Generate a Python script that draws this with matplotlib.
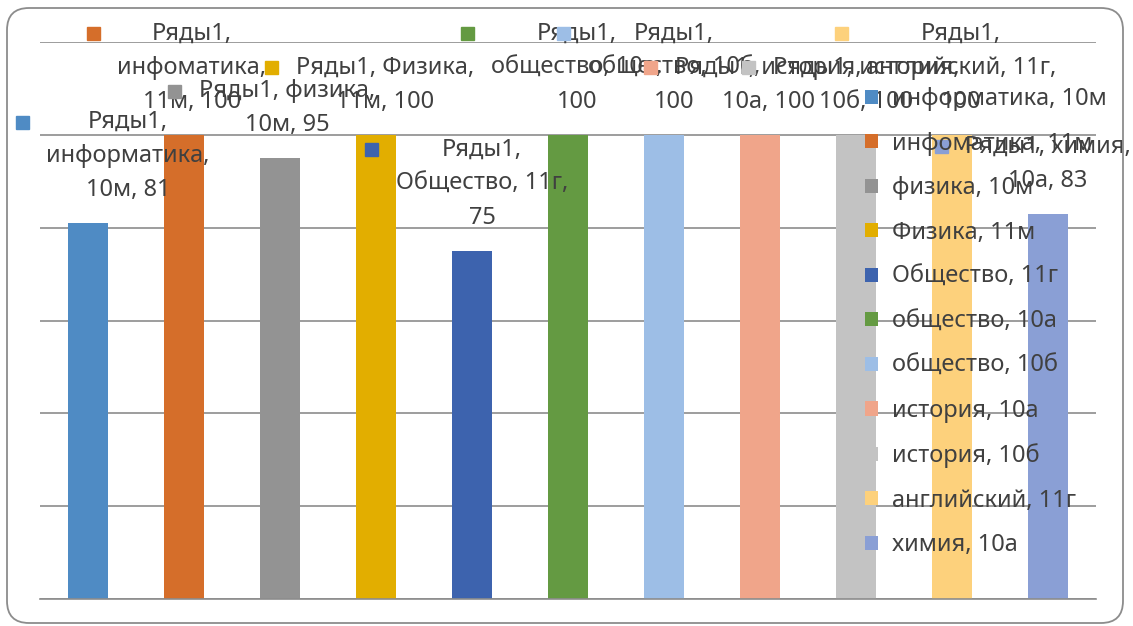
import matplotlib.pyplot as plt
from matplotlib.patches import Rectangle, FancyBboxPatch

plt.rcParams['font.family'] = ['Noto Sans', 'DejaVu Sans']

# данные диаграммы
series = 'Ряды1'
subjects = ['информатика', 'инфоматика', 'физика', 'Физика', 'Общество', 'общество',
            'общество', 'история', 'история', 'английский', 'химия']
classes = ['10м', '11м', '10м', '11м', '11г', '10а', '10б', '10а', '10б', '11г', '10а']
scores = [81, 100, 95, 100, 75, 100, 100, 100, 100, 100, 83]

colors = ['#4f8bc4', '#d56e2a', '#939393', '#e2ae00', '#3d63ae', '#649a42',
          '#9dbee6', '#f0a58a', '#c3c3c3', '#fdd17c', '#8a9fd5']

# как Excel перенёс подписи (сколько кусков в строке) и сдвиг подписей, px
label_breaks = [(1, 1, 2), (1, 1, 2), (2, 2), (2, 2), (1, 2, 1), (1, 2, 1),
                (1, 2, 1), (2, 2), (2, 2), (1, 2, 1), (2, 2)]
label_shift = [40, 8, 7, 9, 10, 9, 10, 8, 10, 9, 0]

txt_color = '#404040'
fs = 17

fig = plt.figure(figsize=(11.33, 6.26), dpi=100)
ax = fig.add_axes([40 / 1133, 27 / 626, 1056 / 1133, 557 / 626])

x = list(range(len(scores)))
bars = ax.bar(x, scores, width=0.41, color=colors, zorder=2)
names = [s + ', ' + c for s, c in zip(subjects, classes)]

ax.set_xlim(-0.5, len(scores) - 0.5)
ax.set_ylim(0, 120)
ax.set_yticks(range(0, 121, 20))
ax.set_xticks([])
ax.tick_params(left=False, labelleft=False)
ax.yaxis.grid(True, color='#8c8c8c', lw=1.2)
ax.set_axisbelow(True)
for s in ['top', 'left', 'right']:
    ax.spines[s].set_visible(False)
ax.spines['bottom'].set_color('#8c8c8c')
ax.spines['bottom'].set_linewidth(1.2)

# подписи данных
label_texts = []
for i in x:
    parts = [series + ',', subjects[i] + ',', classes[i] + ',', str(scores[i])]
    lines = []
    k = 0
    for n in label_breaks[i]:
        lines.append(' '.join(parts[k:k + n]))
        k += n
    objs = []
    for j, line in enumerate(lines):
        dy = 33 + 34 * (len(lines) - 1 - j)
        t = ax.annotate(line, xy=(i, scores[i]), xytext=(label_shift[i], dy),
                        textcoords='offset pixels', ha='center', va='center',
                        fontsize=fs, color=txt_color, zorder=4)
        objs.append(t)
    label_texts.append(objs)

leg = fig.legend(bars.patches, names, loc='upper left',
                 bbox_to_anchor=(865 / 1133, 1 - 87 / 626), frameon=False,
                 fontsize=fs, labelcolor=txt_color, borderpad=0, borderaxespad=0,
                 handlelength=0.55, handleheight=0.55, handletextpad=0.6,
                 labelspacing=0.87)

# квадратики-ключи слева от подписей
fig.canvas.draw()
r = fig.canvas.get_renderer()
inv = fig.transFigure.inverted()
for i, objs in enumerate(label_texts):
    boxes = [t.get_window_extent(r) for t in objs]
    left = min(b.x0 for b in boxes)
    yc = (boxes[0].y0 + boxes[0].y1) / 2
    (fx, fy) = inv.transform((left - 24 - 6.5, yc - 6.5))
    (fx2, fy2) = inv.transform((left - 24 + 6.5, yc + 6.5))
    fig.add_artist(Rectangle((fx, fy), fx2 - fx, fy2 - fy, color=colors[i],
                             transform=fig.transFigure, zorder=5))

# рамка диаграммы
frame = FancyBboxPatch((0.07, 0.03), 11.16, 6.15, boxstyle='round,pad=0,rounding_size=0.22',
                       transform=fig.dpi_scale_trans, fill=False, ec='#8c8c8c', lw=1.3)
fig.add_artist(frame)

fig.savefig('out.png', dpi=100)
